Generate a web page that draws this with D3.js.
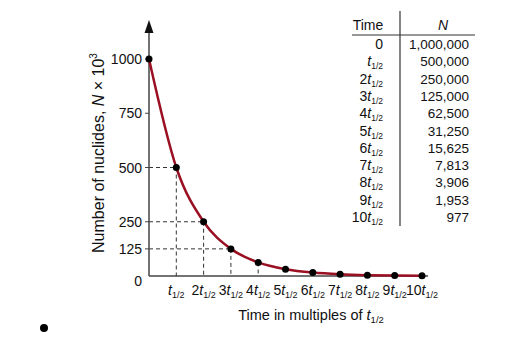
<!DOCTYPE html>
<html>
<head>
<meta charset="utf-8">
<script src="https://cdn.jsdelivr.net/npm/d3@7"></script>
<style>
  body { margin: 0; background: #fff; }
  text { font-family: "Liberation Sans", Arial, Helvetica, sans-serif; fill: #111; }
</style>
</head>
<body>
<div id="chart"></div>
<script>
// half-lives elapsed and nuclides left (x 10^3 on the chart)
var halfLives = [0, 1, 2, 3, 4, 5, 6, 7, 8, 9, 10];
var nuclides = [1000000, 500000, 250000, 125000, 62500, 31250, 15625, 7813, 3906, 1953, 977];
var yTicks = [0, 125, 250, 500, 750, 1000];
var dashedPoints = [1, 2, 3, 4];   // which points get guide lines
var tableValues = ["1,000,000", "500,000", "250,000", "125,000", "62,500", "31,250", "15,625", "7,813", "3,906", "1,953", "977"];

var width = 531, height = 359;

var svg = d3.select("#chart")
  .append("svg")
  .attr("width", width)
  .attr("height", height);

var x = d3.scaleLinear().domain([0, 10]).range([149, 422]);
var y = d3.scaleLinear().domain([0, 1000]).range([276, 59]);

var data = halfLives.map(function(h, i) {
  return {h: h, n: nuclides[i] / 1000};
});

// helper to write "k t1/2"
function halfLifeLabel(sel, k, fs, sub) {
  if (k > 1) sel.append("tspan").text(k);
  sel.append("tspan").attr("font-style", "italic").text("t");
  sel.append("tspan").attr("font-size", sub).attr("dy", 3).text("1/2");
}

// dashed guide lines
var guides = svg.append("g")
  .attr("stroke", "#333")
  .attr("stroke-width", 1)
  .attr("stroke-dasharray", "4,3");

dashedPoints.forEach(function(k) {
  var d = data[k];
  guides.append("line")
    .attr("x1", x(d.h)).attr("x2", x(d.h))
    .attr("y1", y(d.n)).attr("y2", y(0));
  if (k < 4) {
    guides.append("line")
      .attr("x1", x(0)).attr("x2", x(d.h))
      .attr("y1", y(d.n)).attr("y2", y(d.n));
  }
});

// axes
svg.append("line")
  .attr("x1", x(0)).attr("x2", x(0))
  .attr("y1", y(0)).attr("y2", 30)
  .attr("stroke", "#444").attr("stroke-width", 1.5);
svg.append("path")
  .attr("d", "M" + x(0) + ",20 L" + (x(0) - 4.5) + ",33 L" + (x(0) + 4.5) + ",33 Z")
  .attr("fill", "#111");
svg.append("line")
  .attr("x1", x(0)).attr("x2", x(10) + 6)
  .attr("y1", y(0)).attr("y2", y(0))
  .attr("stroke", "#444").attr("stroke-width", 1.5);

// y ticks
var yt = svg.append("g");
yt.selectAll("line")
  .data(yTicks.filter(function(v) { return v > 0; }))
  .enter().append("line")
  .attr("x1", x(0) - 4).attr("x2", x(0))
  .attr("y1", function(d) { return y(d); })
  .attr("y2", function(d) { return y(d); })
  .attr("stroke", "#444");
yt.selectAll("text")
  .data(yTicks)
  .enter().append("text")
  .attr("x", 142)
  .attr("y", function(d) { return y(d) + (d == 0 ? 10 : 5); })
  .attr("text-anchor", "end")
  .style("font-size", "14px")
  .text(function(d) { return d; });

// x tick labels
halfLives.slice(1).forEach(function(k) {
  var t = svg.append("text")
    .attr("x", x(k))
    .attr("y", 295)
    .attr("text-anchor", "middle")
    .style("font-size", "14px");
  halfLifeLabel(t, k, 14, 9);
});

// axis titles
var xt = svg.append("text")
  .attr("x", 311).attr("y", 320)
  .attr("text-anchor", "middle")
  .style("font-size", "14.5px");
xt.append("tspan").text("Time in multiples of ");
halfLifeLabel(xt, 1, 14.5, 9.5);

var ylab = svg.append("text")
  .attr("transform", "translate(104,153) rotate(-90)")
  .attr("text-anchor", "middle")
  .style("font-size", "16px");
ylab.append("tspan").text("Number of nuclides, ");
ylab.append("tspan").attr("font-style", "italic").text("N");
ylab.append("tspan").text(" \u00d7 10");
ylab.append("tspan").attr("font-size", 10).attr("dy", -7).text("3");

// decay curve through the points
var line = d3.line()
  .x(function(d) { return x(d.h); })
  .y(function(d) { return y(d.n); })
  .curve(d3.curveMonotoneX);

svg.append("path")
  .datum(data)
  .attr("d", line)
  .attr("fill", "none")
  .attr("stroke", "#9a0f22")
  .attr("stroke-width", 2.5);

svg.append("g").selectAll("circle")
  .data(data)
  .enter().append("circle")
  .attr("cx", function(d) { return x(d.h); })
  .attr("cy", function(d) { return y(d.n); })
  .attr("r", 3.5)
  .attr("fill", "#000");

// table
var rowY = d3.scaleLinear().domain([0, 10]).range([49, 222]);
var tbl = svg.append("g");
tbl.append("line")
  .attr("x1", 400).attr("x2", 400).attr("y1", 11).attr("y2", 226)
  .attr("stroke", "#333").attr("stroke-width", 1.2);
tbl.append("line")
  .attr("x1", 352).attr("x2", 475).attr("y1", 35).attr("y2", 35)
  .attr("stroke", "#333").attr("stroke-width", 1.2);
tbl.append("text").attr("x", 368).attr("y", 30)
  .attr("text-anchor", "middle").style("font-size", "14px").text("Time");
tbl.append("text").attr("x", 443).attr("y", 30)
  .attr("text-anchor", "middle").style("font-size", "14px")
  .attr("font-style", "italic").text("N");

halfLives.forEach(function(k, i) {
  var t = tbl.append("text")
    .attr("x", 383).attr("y", rowY(i))
    .attr("text-anchor", "end")
    .style("font-size", "14px");
  if (k == 0) t.text("0");
  else halfLifeLabel(t, k, 14, 8.5);
  tbl.append("text")
    .attr("x", 469).attr("y", rowY(i))
    .attr("text-anchor", "end")
    .style("font-size", "13.5px")
    .text(tableValues[i]);
});

// stray bullet in the corner of the figure
svg.append("circle")
  .attr("cx", 44).attr("cy", 328).attr("r", 4)
  .attr("fill", "#000");
</script>
</body>
</html>
